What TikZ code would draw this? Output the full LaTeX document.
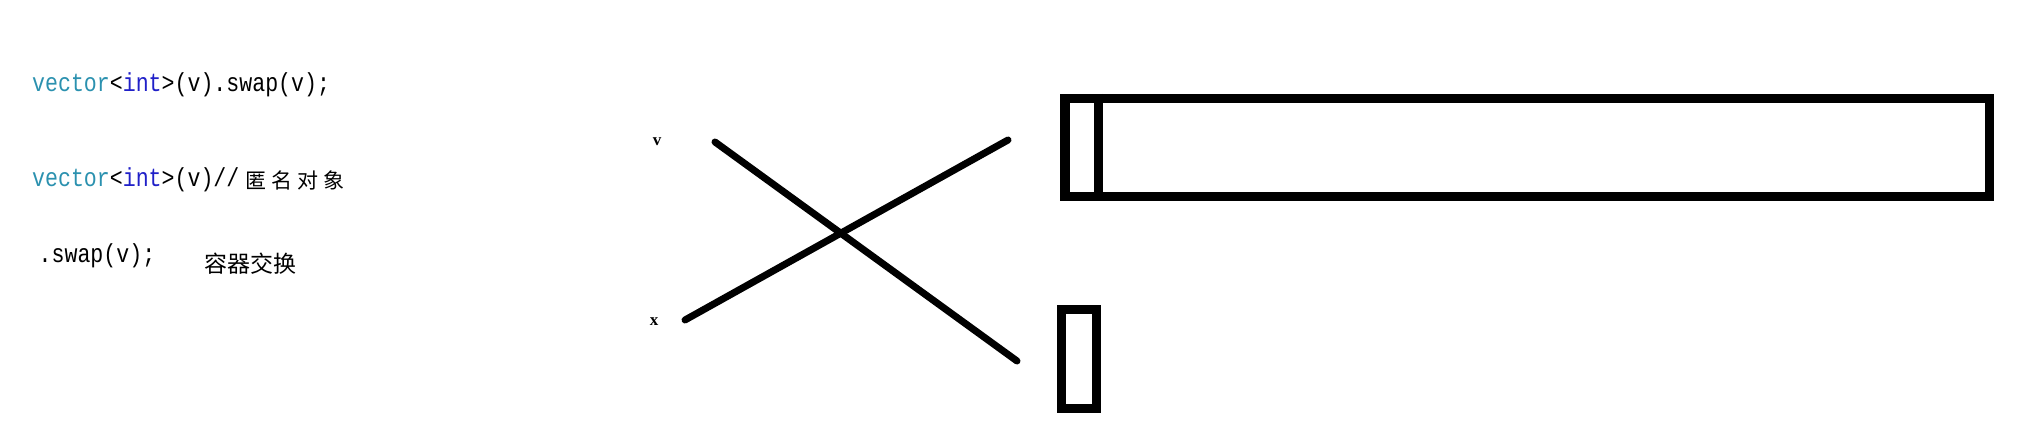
\documentclass[tikz,border=0pt]{standalone}
\usepackage{fontspec}
\newfontfamily\codefont{Liberation Mono}[FakeStretch=0.83]
\newfontfamily\cjkA{Noto Sans CJK SC}[LetterSpace=25]
\newfontfamily\cjkB{Noto Sans CJK SC}
\newfontfamily\lblfont{Liberation Serif}
\definecolor{vtype}{HTML}{2B91AF}
\definecolor{vkw}{HTML}{2020C8}
\begin{document}
\begin{tikzpicture}[x=1pt,y=-1pt,
  code/.style={anchor=base west, inner sep=0pt, font=\fontsize{26}{26}\codefont},
  cjktwo/.style={anchor=base west, inner sep=0pt, font=\fontsize{21}{21}\cjkA},
  cjkthree/.style={anchor=base west, inner sep=0pt, font=\fontsize{23}{23}\cjkB},
  lbl/.style={inner sep=0pt, font=\fontsize{17}{17}\lblfont\bfseries},
  xline/.style={line width=7pt, line cap=round},
  boxnode/.style={draw, line width=9.3pt, inner sep=0pt, minimum width=#1pt},
  boxline/.style={line width=9.3pt}
]
\useasboundingbox (0,0) rectangle (2024,443);

% code text
\node[code] (l1) at (32,92) {\textcolor{vtype}{vector}<\textcolor{vkw}{int}>(v).swap(v);};
\node[code] (l2) at (32,187) {\textcolor{vtype}{vector}<\textcolor{vkw}{int}>(v)//};
\node[cjktwo] (c2) at (245,188.5) {匿名对象};
\node[code] (l3) at (38.5,263) {.swap(v);};
\node[cjkthree] (c3) at (204,273) {容器交换};

% labels
\node[lbl] (lv) at (657,142) {v};
\node[lbl] (lx) at (654,322) {x};

% crossing lines
\coordinate (a1) at (715,142);
\coordinate (a2) at (1017,361);
\coordinate (b1) at (685,320);
\coordinate (b2) at (1008,140);
\draw[xline] (a1) -- (a2);
\draw[xline] (b1) -- (b2);

% boxes
\node[boxnode=924.5, minimum height=97.8pt] (big) at (1527.25,147.4) {};
\draw[boxline] (big.north west) ++(37.8,0) -- ++(0,97.8);
\node[boxnode=34.6, minimum height=98.6pt] (small) at (1079,359) {};
\end{tikzpicture}
\end{document}
